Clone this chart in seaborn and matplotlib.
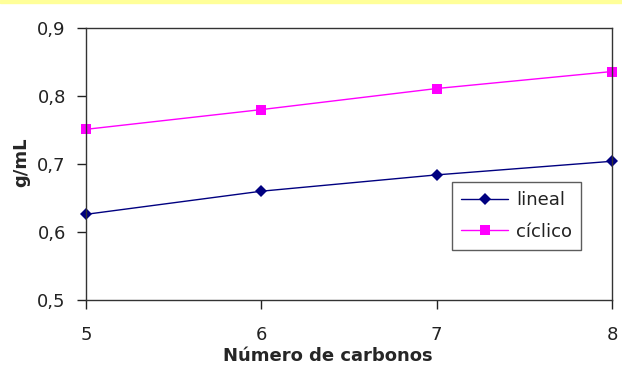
import matplotlib
matplotlib.use("Agg")
import matplotlib.pyplot as plt
import seaborn as sns
import pandas as pd

carbonos = [5, 6, 7, 8]
lineal = [0.626, 0.660, 0.684, 0.704]
ciclico = [0.751, 0.780, 0.811, 0.836]
series_names = ["lineal", "cíclico"]
y_ticks = [0.5, 0.6, 0.7, 0.8, 0.9]
y_ticklabels = ["0,5", "0,6", "0,7", "0,8", "0,9"]

df = pd.DataFrame({
    "x": carbonos * 2,
    "y": lineal + ciclico,
    "serie": [series_names[0]] * 4 + [series_names[1]] * 4,
})

sns.set_theme(style="white")
plt.rcParams["font.family"] = ["DejaVu Sans"]

fig = plt.figure(figsize=(6.22, 3.76), dpi=100)
ax = fig.add_axes([86 / 622, 76 / 376, 526 / 622, 272 / 376])

sns.lineplot(data=df, x="x", y="y", hue="serie", style="serie",
             palette={"lineal": "#000080", "cíclico": "#FF00FF"},
             markers={"lineal": "D", "cíclico": "s"},
             dashes=False, markersize=6.5, linewidth=1,
             markeredgewidth=0, ax=ax)
for ln in ax.lines:
    ln.set_clip_on(False)

ax.set_xlim(5, 8)
ax.set_ylim(0.5, 0.9)
ax.set_xticks(carbonos)
ax.set_xticklabels([str(c) for c in carbonos])
ax.set_yticks(y_ticks)
ax.set_yticklabels(y_ticklabels)
ax.tick_params(axis="both", direction="out", length=6.5, width=1, color="#222222",
               labelsize=13, labelcolor="#222222", bottom=True, left=True)
ax.tick_params(axis="x", pad=12)
ax.tick_params(axis="y", pad=8)
for s in ax.spines.values():
    s.set_color("#333333")
    s.set_linewidth(1)
ax.set_xlabel("Número de carbonos", fontsize=13, fontweight="bold", va="center")
ax.xaxis.set_label_coords((328 - 86) / 526, (300 - 356) / 272)
ax.set_ylabel("g/mL", fontsize=13, fontweight="bold", va="center")
ax.yaxis.set_label_coords((21 - 86) / 526, (300 - 162) / 272)

leg = ax.legend(loc="upper left", bbox_to_anchor=((452 - 86) / 526, (300 - 182) / 272),
                frameon=True, fancybox=False, fontsize=13, handlelength=2.6,
                borderpad=0.5, labelspacing=0.75, handletextpad=0.45,
                borderaxespad=0)
leg.get_frame().set_edgecolor("#333333")
leg.get_frame().set_linewidth(1)
for t in leg.get_texts():
    t.set_color("#222222")

fig.patches.append(plt.Rectangle((0, 1 - 3 / 376), 1, 3 / 376, transform=fig.transFigure,
                                 color="#FFFF99", zorder=0))

fig.savefig("out.png", dpi=100)
